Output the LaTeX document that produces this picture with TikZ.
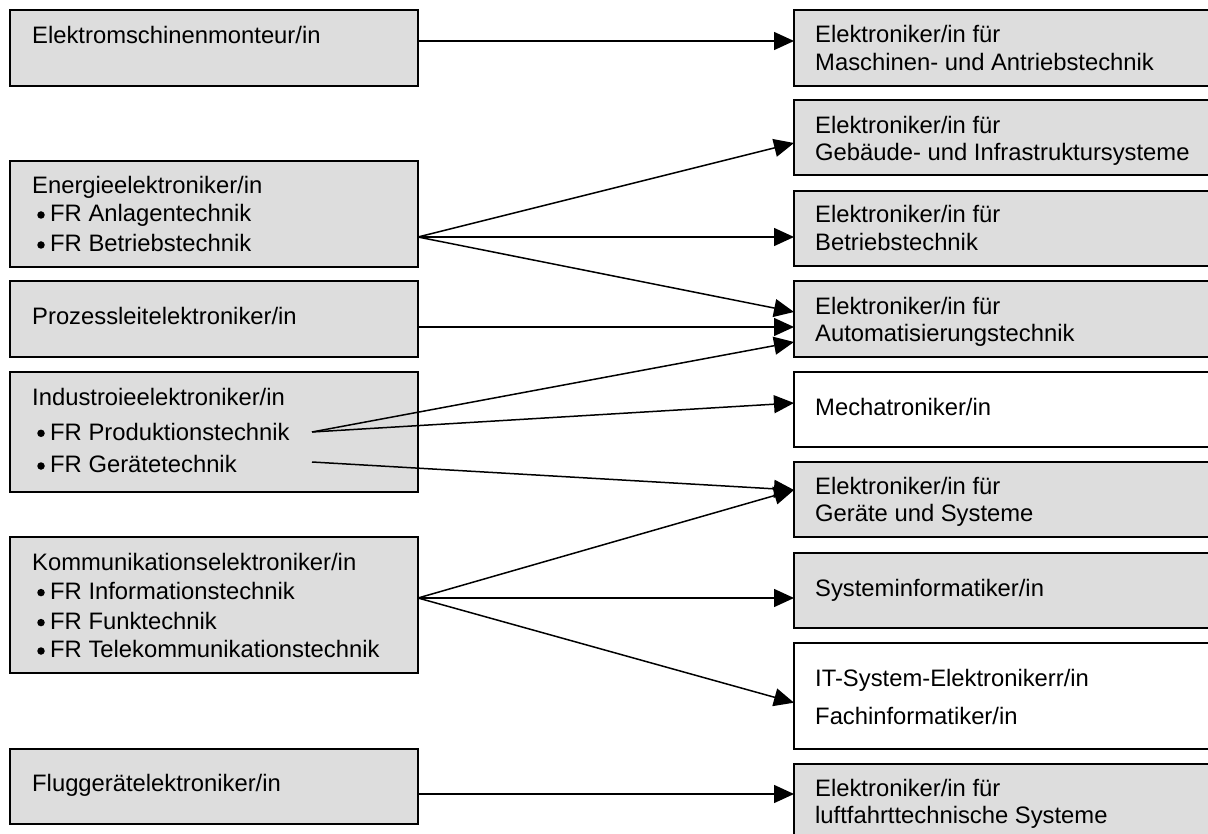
\documentclass[tikz,border=0pt]{standalone}
\usepackage{fontspec}
\setmainfont{Liberation Sans}
\usetikzlibrary{arrows.meta}
\definecolor{boxgray}{HTML}{DDDDDD}
\tikzset{
  gbox/.style={draw, line width=1.8pt, fill=boxgray, inner sep=0pt},
  wbox/.style={gbox, fill=white},
  lbox/.style={minimum width=408pt},
  rbox/.style={minimum width=421pt},
  lbl/.style={anchor=base west, inner sep=0pt, font=\fontsize{23.8}{28}\selectfont},
  bul/.style={circle, fill=black, inner sep=0pt, minimum size=7.5pt},
  conn/.style={line width=1.5pt, -{Triangle[length=20pt,width=18pt]}},
}
\begin{document}
\begin{tikzpicture}[x=1pt,y=-1pt]
\useasboundingbox (0,0) rectangle (1208,834);
\fill[white] (0,0) rectangle (1208,834);
% left boxes
\node[gbox,lbox,minimum height=76pt]  (l1) at (214,48) {};
\node[gbox,lbox,minimum height=106pt] (l2) at (214,214) {};
\node[gbox,lbox,minimum height=76pt]  (l3) at (214,319) {};
\node[gbox,lbox,minimum height=120pt] (l4) at (214,432) {};
\node[gbox,lbox,minimum height=136pt] (l5) at (214,605) {};
\node[gbox,lbox,minimum height=75pt]  (l6) at (214,786.5) {};
% right boxes
\node[gbox,rbox,minimum height=76pt] (r1) at (1004.5,48) {};
\node[gbox,rbox,minimum height=75pt] (r2) at (1004.5,137.5) {};
\node[gbox,rbox,minimum height=75pt] (r3) at (1004.5,228.5) {};
\node[gbox,rbox,minimum height=76pt] (r4) at (1004.5,319) {};
\node[wbox,rbox,minimum height=75pt] (r5) at (1004.5,409.5) {};
\node[gbox,rbox,minimum height=75pt] (r6) at (1004.5,499.5) {};
\node[gbox,rbox,minimum height=75pt] (r7) at (1004.5,590.5) {};
\node[wbox,rbox,minimum height=106pt] (r8) at (1004.5,696) {};
\node[gbox,rbox,minimum height=86pt] (r9) at (1004.5,807) {};
% left texts
\node[lbl] (t11) at (32,43.3) {Elektromschinenmonteur/in};
\node[lbl] (t21) at (32,193.3) {Energieelektroniker/in};
\node[bul] (b22) at (41,215) {};
\node[lbl] (t22) at (50,221.7) {FR Anlagentechnik};
\node[bul] (b23) at (41,245) {};
\node[lbl] (t23) at (50,251.7) {FR Betriebstechnik};
\node[lbl] (t31) at (32,324.3) {Prozessleitelektroniker/in};
\node[lbl] (t41) at (32,405) {Industroieelektroniker/in};
\node[bul] (b42) at (41,433.3) {};
\node[lbl] (t42) at (50,440) {FR Produktionstechnik};
\node[bul] (b43) at (41,466) {};
\node[lbl] (t43) at (50,472.7) {FR Gerätetechnik};
\node[lbl] (t51) at (32,570) {Kommunikationselektroniker/in};
\node[bul] (b52) at (41,592.6) {};
\node[lbl] (t52) at (50,599.3) {FR Informationstechnik};
\node[bul] (b53) at (41,622.6) {};
\node[lbl] (t53) at (50,629.3) {FR Funktechnik};
\node[bul] (b54) at (41,651) {};
\node[lbl] (t54) at (50,657.7) {FR Telekommunikationstechnik};
\node[lbl] (t61) at (32,791.7) {Fluggerätelektroniker/in};
% right texts
\node[lbl] (s11) at (815,42.7) {Elektroniker/in für};
\node[lbl] (s12) at (815,70.7) {Maschinen- und Antriebstechnik};
\node[lbl] (s21) at (815,133.3) {Elektroniker/in für};
\node[lbl] (s22) at (815,161) {Gebäude- und Infrastruktursysteme};
\node[lbl] (s31) at (815,222.7) {Elektroniker/in für};
\node[lbl] (s32) at (815,250.7) {Betriebstechnik};
\node[lbl] (s41) at (815,315) {Elektroniker/in für};
\node[lbl] (s42) at (815,341.7) {Automatisierungstechnik};
\node[lbl] (s51) at (815,415.7) {Mechatroniker/in};
\node[lbl] (s61) at (815,494) {Elektroniker/in für};
\node[lbl] (s62) at (815,521.7) {Geräte und Systeme};
\node[lbl] (s71) at (815,596.7) {Systeminformatiker/in};
\node[lbl] (s81) at (815,686.7) {IT-System-Elektronikerr/in};
\node[lbl] (s82) at (815,724) {Fachinformatiker/in};
\node[lbl] (s91) at (815,796.7) {Elektroniker/in für};
\node[lbl] (s92) at (815,823.3) {luftfahrttechnische Systeme};
% connector end points
\coordinate (c1) at (418,41);
\coordinate (c2) at (418,237);
\coordinate (c3) at (418,327);
\coordinate (cp) at (312,432);
\coordinate (cg) at (312,462);
\coordinate (c5) at (418,598);
\coordinate (c6) at (418,794);
\coordinate (e1) at (794,41);
\coordinate (e2) at (794,143);
\coordinate (e3) at (794,237);
\coordinate (e4a) at (794,312);
\coordinate (e4b) at (794,327);
\coordinate (e4c) at (794,342);
\coordinate (e5) at (794,403);
\coordinate (e6) at (794,490);
\coordinate (e7) at (794,598);
\coordinate (e8) at (794,702.7);
\coordinate (e9) at (794,794);
% connectors
\draw[conn] (c1) -- (e1);
\draw[conn] (c2) -- (e2);
\draw[conn] (c2) -- (e3);
\draw[conn] (c2) -- (e4a);
\draw[conn] (c3) -- (e4b);
\draw[conn] (cp) -- (e4c);
\draw[conn] (cp) -- (e5);
\draw[conn] (cg) -- (e6);
\draw[conn] (c5) -- (e6);
\draw[conn] (c5) -- (e7);
\draw[conn] (c5) -- (e8);
\draw[conn] (c6) -- (e9);
\end{tikzpicture}
\end{document}
